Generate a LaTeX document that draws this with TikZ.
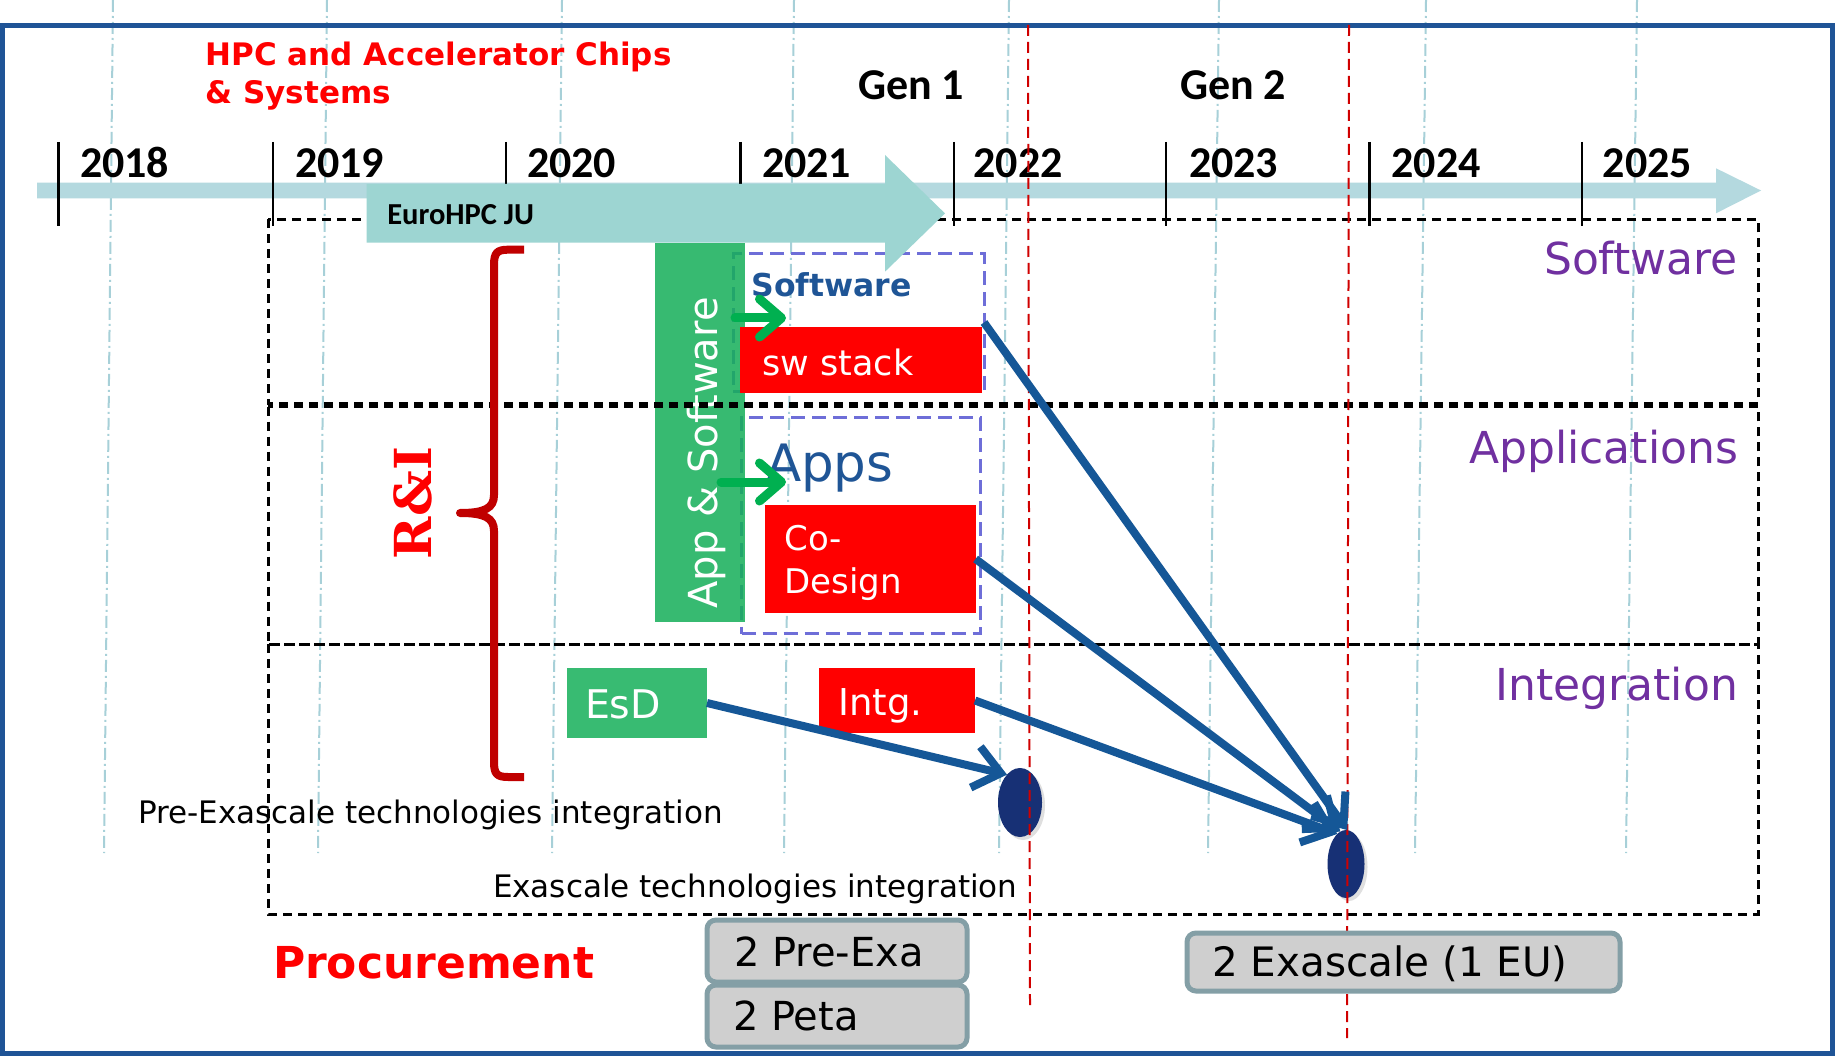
\documentclass[tikz,border=0pt]{standalone}
\usepackage{fontspec}
\setmainfont{DejaVu Sans}
\newfontfamily\calib{Carlito}
\newfontfamily\slabfam{DejaVu Serif}
\usetikzlibrary{arrows.meta,shapes.geometric,shadows}
\newcommand\fsz[1]{\fontsize{#1}{#1}\selectfont}

\definecolor{bordblue}{HTML}{1F5496}
\definecolor{gridblue}{HTML}{A7D0D8}
\definecolor{tlblue}{HTML}{B4D9DF}
\definecolor{euroteal}{HTML}{9DD5D2}
\definecolor{bargreen}{HTML}{15AF59}
\definecolor{boxgreen}{HTML}{38BB72}
\definecolor{arrgreen}{HTML}{00B050}
\definecolor{boxred}{HTML}{FF0000}
\definecolor{lanepurple}{HTML}{7030A0}
\definecolor{dashviolet}{HTML}{6E6ED8}
\definecolor{textblue}{HTML}{1F5596}
\definecolor{arrblue}{HTML}{155797}
\definecolor{navy}{HTML}{173075}
\definecolor{bracered}{HTML}{C00000}
\definecolor{procfill}{HTML}{CFCFCF}
\definecolor{procline}{HTML}{849FA6}
\definecolor{dashred}{HTML}{D00000}

\tikzset{
  every node/.style={inner sep=0pt, outer sep=0pt},
  gridline/.style={gridblue, line width=2pt, dash pattern=on 12pt off 4pt on 2pt off 4pt},
  lane/.style={black, line width=3pt, dash pattern=on 9pt off 6pt},
  dashbox/.style={draw=dashviolet, line width=3pt, dash pattern=on 14pt off 7pt, anchor=north west},
  filledbox/.style={anchor=north west, draw=none},
  txt/.style={anchor=base west},
  yearlab/.style={anchor=base west, font=\calib\bfseries\fsz{44}},
  lanelab/.style={anchor=base east, text=lanepurple, font=\fsz{44}},
  bluearr/.style={arrblue, line width=8pt, -{Straight Barb[length=26pt,width=42pt]}},
  greenarr/.style={arrgreen, line width=9pt, line cap=round, -{Straight Barb[length=22pt,width=38pt,round]}},
  procbox/.style={anchor=north west, fill=procfill, draw=procline, line width=5pt, rounded corners=9pt},
  milestone/.style={ellipse, fill=navy, drop shadow={shadow xshift=3pt, shadow yshift=-3pt, opacity=0.25}},
  reddashed/.style={dashred, line width=2pt, dash pattern=on 11pt off 6pt}
}

\begin{document}
\begin{tikzpicture}[x=1pt, y=-1pt]
\useasboundingbox (0,0) rectangle (1838,1056);
\fill[white] (0,0) rectangle (1838,1056);

% year grid (dash-dot)
\foreach \a/\b in {113/104, 327/318, 562/552, 794/784, 1009/999, 1219/1208, 1426/1415, 1637/1626}
  \draw[gridline] (\a,0) -- (\b,853);

% frame
\draw[bordblue, line width=5pt] (2.5,25.5) rectangle (1832.5,1053.5);

% title (anchored on the baseline of its last line)
\node[txt, text=boxred, align=left, font=\bfseries\fontsize{31}{37.3}\selectfont] (title) at (205.5,103.3)
  {HPC and Accelerator Chips\\\& Systems};

% generations
\node[txt, font=\calib\bfseries\fsz{44}] (gen1) at (858,100) {Gen 1};
\node[txt, font=\calib\bfseries\fsz{44}] (gen2) at (1180,100) {Gen 2};

% time line
\fill[tlblue] (37,182.7) -- (1716,182.7) -- (1716,168.3) -- (1761,190.5)
  -- (1716,213.3) -- (1716,198.3) -- (37,198.3) -- cycle;
\foreach \x in {58.7,272.9,505.9,740.6,953.8,1166,1369.5,1581.8}
  \draw[line width=2.5pt] (\x,142) -- (\x,226);
\foreach \x/\yr in {80/2018, 295/2019, 527/2020, 762/2021, 973.6/2022, 1189/2023, 1391.6/2024, 1602.7/2025}
  \node[yearlab] (y\yr) at (\x,178) {\yr};

% software and applications groups
\node[dashbox, minimum width=251pt, minimum height=137pt] (swbox) at (733,254) {};
\node[dashbox, minimum width=238.3pt, minimum height=216.5pt] (appbox) at (741.7,417) {};

% App & Software bar
\node[filledbox, fill=bargreen, fill opacity=0.85, minimum width=90.6pt, minimum height=379pt] (appsw) at (654.8,242.7) {};
\node[rotate=90, anchor=base, text=white, font=\fsz{40}] (appswtext) at (717,453) {App \& Software};

% lanes
\draw[lane] (268,219.3) rectangle (1758,403.3);
\draw[lane] (268,406.7) rectangle (1758,644);
\draw[lane] (268,644) rectangle (1758,914);
\node[lanelab] (lsw) at (1738,275) {Software};
\node[lanelab] (lapp) at (1738,463.3) {Applications};
\node[lanelab] (lint) at (1738,700) {Integration};

% EuroHPC JU arrow
\fill[euroteal] (366.7,184) -- (885,184) -- (885,155) -- (945,213.4) -- (885,271.7)
  -- (885,242.7) -- (366.7,242.7) -- cycle;
\node[txt, font=\calib\bfseries\fsz{30.5}] (euro) at (387.3,225) {EuroHPC JU};

% boxes
\node[txt, text=textblue, font=\bfseries\fsz{31.5}] (swtitle) at (751.5,297) {Software};
\node[filledbox, fill=boxred, minimum width=242pt, minimum height=66pt] (swstack) at (740,327) {};
\node[txt, text=white, font=\fsz{35}] (swstacktext) at (762.5,375) {sw stack};

\node[txt, text=textblue, font=\fsz{51.5}] (apps) at (766,481.7) {Apps};
\node[filledbox, fill=boxred, minimum width=210.6pt, minimum height=108pt] (codesign) at (765,505) {};
\node[txt, text=white, align=left, font=\fontsize{34}{43.3}\selectfont] (codesigntext) at (784.5,593.3) {Co-\\Design};

\node[filledbox, fill=boxgreen, minimum width=140pt, minimum height=70pt] (esd) at (567,668) {};
\node[txt, text=white, font=\fsz{39.5}] (esdtext) at (585,718) {EsD};
\node[filledbox, fill=boxred, minimum width=156pt, minimum height=65pt] (intg) at (819,668) {};
\node[txt, text=white, font=\fsz{37}] (intgtext) at (838.5,715) {Intg.};

% R&I brace
\draw[bracered, line width=8pt, line join=round]
  (524,249.7) -- (508,249.7) .. controls (497,249.7) and (494,253) .. (494,265)
  -- (494,495) .. controls (494,508) and (485,513) .. (460,513)
  .. controls (485,513) and (494,518) .. (494,531)
  -- (494,762) .. controls (494,774) and (497,777) .. (508,777) -- (524,777);
\node[rotate=90, anchor=base, text=boxred, font=\slabfam\bfseries\fsz{51}] (ri) at (431.7,503) {R\&I};

% integration texts
\node[txt, font=\fsz{31}] (preint) at (138,823.3) {Pre-Exascale technologies integration};
\node[txt, font=\fsz{31}] (exaint) at (493,897.3) {Exascale technologies integration};

% milestones
\node[milestone, minimum width=44pt, minimum height=69pt] (m1) at (1020,802.5) {};
\node[milestone, minimum width=37pt, minimum height=68pt] (m2) at (1346,864) {};

% generation boundaries
\draw[reddashed] (1028,25) -- (1030,1006);
\draw[reddashed] (1349,25) -- (1347,1038);

% flows
\draw[bluearr] (esd.east) -- (m1.115);
\draw[bluearr] (intg.east) -- (m2.106);
\draw[bluearr] (codesign.east) -- (m2.100);
\draw[bluearr] (swbox.east) -- (m2.88);

\coordinate (g1s) at (735,318);
\coordinate (g1e) at (786,318);
\coordinate (g2s) at (721,482);
\coordinate (g2e) at (786,482);
\draw[greenarr] (g1s) -- (g1e);
\draw[greenarr] (g2s) -- (g2e);

% procurement
\node[txt, text=boxred, font=\bfseries\fsz{44}] (proc) at (273,978.3) {Procurement};
\node[procbox, minimum width=260pt, minimum height=62pt] (preexa) at (707,920) {};
\node[txt, font=\fsz{40}] (preexatext) at (734,966.7) {2 Pre-Exa};
\node[procbox, minimum width=260pt, minimum height=62pt] (peta) at (707,985) {};
\node[txt, font=\fsz{40}] (petatext) at (733,1030) {2 Peta};
\node[procbox, minimum width=433pt, minimum height=58pt] (exa) at (1187,933) {};
\node[txt, font=\fsz{40.5}] (exatext) at (1212,976) {2 Exascale (1 EU)};
\end{tikzpicture}
\end{document}
